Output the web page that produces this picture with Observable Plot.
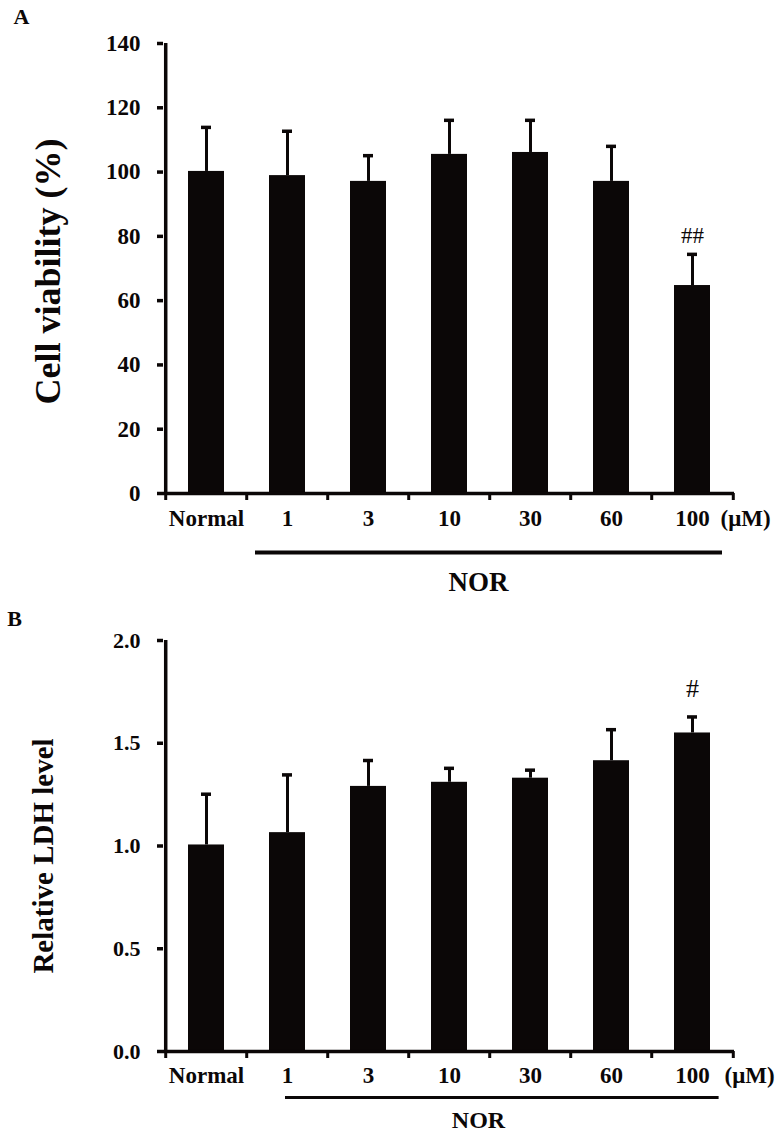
<!DOCTYPE html>
<html><head><meta charset="utf-8">
<script src="https://cdn.jsdelivr.net/npm/d3@7"></script>
<script src="https://cdn.jsdelivr.net/npm/@observablehq/plot@0.6"></script>
<style>
body{margin:0;background:#fff;}
#chart{width:779px;height:1137px;overflow:hidden;}
#chart svg{display:block;}
</style></head><body><div id="chart"></div>
<script>
const categories = ["Normal", "1", "3", "10", "30", "60", "100"];
const viabilityMean = [100.2, 98.9, 97.1, 105.5, 106.1, 97.1, 64.7];
const viabilityErr = [13.7, 13.8, 8.0, 10.6, 10.0, 10.9, 9.7];
const viabilitySig = ["", "", "", "", "", "", "##"];
const viabilityTicks = [0, 20, 40, 60, 80, 100, 120, 140];
const ldhMean = [1.005, 1.065, 1.29, 1.31, 1.33, 1.415, 1.55];
const ldhErr = [0.247, 0.281, 0.126, 0.068, 0.039, 0.151, 0.078];
const ldhSig = ["", "", "", "", "", "", "#"];
const ldhTicks = [0, 0.5, 1.0, 1.5, 2.0];
const groupLabel = "NOR";
const unitLabel = "(\u03bcM)";

const INK = "#0b0707";
const W = 779, ML = 163, MR = 45;

function panel(o) {
  const data = categories.map((c, i) => ({cat: c, mean: o.means[i], hi: o.means[i] + o.errs[i], sig: o.sig[i]}));
  const step = (W - ML - MR) / categories.length;
  const last = categories[categories.length - 1];
  return Plot.plot({
    width: W, height: o.height,
    marginLeft: ML, marginRight: MR, marginTop: o.marginTop, marginBottom: o.marginBottom,
    style: {fontFamily: "'Liberation Serif', 'Times New Roman', serif", color: INK, background: "white", overflow: "visible"},
    x: {type: "band", domain: categories, paddingInner: 0.56, paddingOuter: 0.28},
    y: {domain: o.domain},
    marks: [
      Plot.barY(data, {x: "cat", y: "mean", fill: INK}),
      Plot.ruleX(data, {x: "cat", y1: "mean", y2: "hi", stroke: INK, strokeWidth: 3}),
      Plot.tickY(data, {x: "cat", y: "hi", insetLeft: 13, insetRight: 13, stroke: INK, strokeWidth: 3.5}),
      Plot.ruleY([o.domain[0]], {stroke: INK, strokeWidth: 3.5}),
      Plot.ruleX([categories[0]], {y1: o.domain[0], y2: o.domain[1], dx: -step / 2, stroke: INK, strokeWidth: 3.5}),
      Plot.axisY({ticks: o.ticks, tickSize: 6, tickPadding: 17, strokeWidth: 3.5, fontSize: o.tickFont, fontWeight: "bold", tickFormat: o.tickFormat, label: null}),
      Plot.axisX({ticks: categories, tickSize: 7, strokeWidth: 3, dx: -step / 2, tickFormat: () => "", label: null}),
      Plot.axisX({ticks: [last], tickSize: 7, strokeWidth: 3, dx: step / 2, tickFormat: () => "", label: null}),
      Plot.text(categories, {x: d => d, frameAnchor: "bottom", dy: o.xLabelDy, fontSize: 23, fontWeight: "bold"}),
      Plot.text([unitLabel], {x: () => last, frameAnchor: "bottom", dy: o.xLabelDy, dx: o.unitDx, fontSize: 23, fontWeight: "bold"}),
      Plot.ruleY([o.domain[0]], {x1: () => categories[1], x2: () => last, dy: o.norDy, insetLeft: o.norInsetLeft, insetRight: o.norInsetRight, stroke: INK, strokeWidth: o.norStroke}),
      Plot.text([groupLabel], {x: () => categories[3], frameAnchor: "bottom", dy: o.norTextDy, dx: 29, fontSize: o.norSize, fontWeight: "bold"}),
      Plot.text(data.filter(d => d.sig), {x: "cat", y: "hi", text: "sig", dy: o.sigDy, fontSize: o.sigSize}),
      Plot.text([o.yLabel], {frameAnchor: "left", textAnchor: "middle", lineAnchor: "middle", rotate: -90, dx: o.yLabelDx, dy: o.yLabelDy, fontSize: o.yLabelSize, fontWeight: "bold"}),
      Plot.text([o.letter], {frameAnchor: "top-left", textAnchor: "middle", lineAnchor: "middle", dx: o.letterDx, dy: o.letterDy, fontSize: 22, fontWeight: "bold"})
    ]
  });
}

const chart = document.getElementById("chart");
chart.append(panel({
  height: 610, marginTop: 43, marginBottom: 117,
  means: viabilityMean, errs: viabilityErr, sig: viabilitySig,
  domain: [0, 140], ticks: viabilityTicks, tickFormat: d3.format("d"), tickFont: 23,
  xLabelDy: 32, unitDx: 53,
  norDy: 59, norInsetLeft: -14, norInsetRight: -12, norStroke: 4,
  norTextDy: 97, norSize: 27,
  sigDy: -19, sigSize: 23,
  yLabel: "Cell viability (%)", yLabelDx: -115, yLabelDy: 3, yLabelSize: 36,
  letter: "A", letterDx: -142, letterDy: -27
}));
chart.append(panel({
  height: 527, marginTop: 30, marginBottom: 86,
  means: ldhMean, errs: ldhErr, sig: ldhSig,
  domain: [0, 2], ticks: ldhTicks, tickFormat: d3.format(".1f"), tickFont: 22,
  xLabelDy: 31, unitDx: 57,
  norDy: 46, norInsetLeft: 16, norInsetRight: -8.6, norStroke: 3,
  norTextDy: 76, norSize: 24,
  sigDy: -28, sigSize: 26,
  yLabel: "Relative LDH level", yLabelDx: -120, yLabelDy: 10, yLabelSize: 29,
  letter: "B", letterDx: -149, letterDy: -22
}));
</script></body></html>
